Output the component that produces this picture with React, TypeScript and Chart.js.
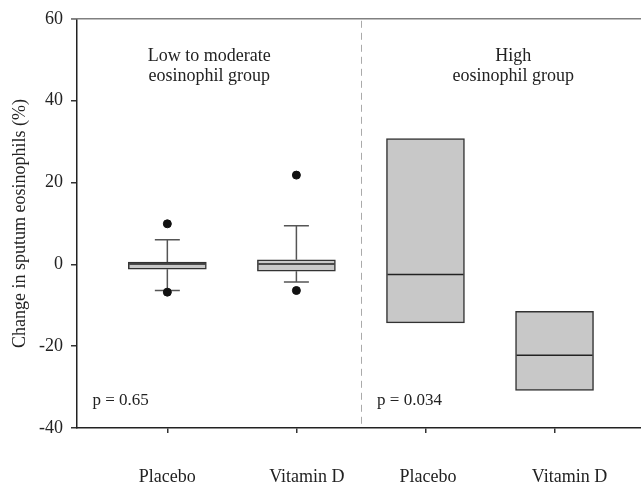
import React, { useEffect, useRef } from 'react';
import { Chart, registerables } from 'chart.js';

Chart.register(...registerables);

// ---- data ----
const categories = ['Placebo', 'Vitamin D', 'Placebo', 'Vitamin D'];
const categoryPos = [1, 2, 3, 4];
const q1 = [-1.2, -1.7, -14.3, -30.8];
const median = [0.1, 0.1, -2.5, -22.2];
const q3 = [0.55, 1.1, 30.7, -11.5];
const whiskerLow: (number | null)[] = [-6.4, -4.3, null, null];
const whiskerHigh: (number | null)[] = [6.0, 9.4, null, null];
const outlierX = [1, 1, 2, 2];
const outlierY = [9.9, -6.8, 21.8, -6.4];
const yTickValues = [-40, -20, 0, 20, 40, 60];
const groupTitles = [
  ['Low to moderate', 'eosinophil group'],
  ['High', 'eosinophil group'],
];
const pValues = ['p = 0.65', 'p = 0.034'];
const yTitle = 'Change in sputum eosinophils (%)';

const FONT = '"Liberation Serif", "Times New Roman", serif';
const TEXT = '#222';

const boxPlugin = {
  id: 'boxExtras',
  beforeDatasetsDraw(chart: any) {
    const { ctx, chartArea, scales } = chart;
    const x = scales.x;
    const y = scales.y;
    ctx.save();
    // top frame line
    ctx.strokeStyle = '#808080';
    ctx.lineWidth = 1.5;
    ctx.beginPath();
    ctx.moveTo(chartArea.left - 6, chartArea.top);
    ctx.lineTo(chartArea.right, chartArea.top);
    ctx.stroke();
    // dashed divider between groups
    const dx = Math.round(x.getPixelForValue(2.5)) + 0.5;
    ctx.setLineDash([7, 5]);
    ctx.strokeStyle = '#aaaaaa';
    ctx.lineWidth = 1;
    ctx.beginPath();
    ctx.moveTo(dx, chartArea.top + 2);
    ctx.lineTo(dx, chartArea.bottom);
    ctx.stroke();
    ctx.setLineDash([]);
    // whiskers
    ctx.strokeStyle = '#555';
    ctx.lineWidth = 1.5;
    categoryPos.forEach((c, i) => {
      const px = x.getPixelForValue(c);
      const half = 12.5;
      const hi = whiskerHigh[i];
      const lo = whiskerLow[i];
      if (hi != null) {
        const yy = y.getPixelForValue(hi);
        ctx.beginPath();
        ctx.moveTo(px, y.getPixelForValue(q3[i]));
        ctx.lineTo(px, yy);
        ctx.moveTo(px - half, yy);
        ctx.lineTo(px + half, yy);
        ctx.stroke();
      }
      if (lo != null) {
        const yy = y.getPixelForValue(lo);
        ctx.beginPath();
        ctx.moveTo(px, y.getPixelForValue(q1[i]));
        ctx.lineTo(px, yy);
        ctx.moveTo(px - half, yy);
        ctx.lineTo(px + half, yy);
        ctx.stroke();
      }
    });
    ctx.restore();
  },
  afterDatasetDraw(chart: any, args: any) {
    if (args.index !== 0) return;
    const { ctx, scales } = chart;
    const meta = chart.getDatasetMeta(0);
    ctx.save();
    ctx.strokeStyle = '#222';
    ctx.lineWidth = 1.5;
    meta.data.forEach((bar: any, i: number) => {
      const yy = scales.y.getPixelForValue(median[i]);
      ctx.beginPath();
      ctx.moveTo(bar.x - bar.width / 2 + 1, yy);
      ctx.lineTo(bar.x + bar.width / 2 - 1, yy);
      ctx.stroke();
    });
    ctx.restore();
  },
  afterDraw(chart: any) {
    const { ctx, scales } = chart;
    const x = scales.x;
    const y = scales.y;
    ctx.save();
    ctx.fillStyle = TEXT;
    // category labels below the x axis
    const labelShift = [0, 10.5, 2.5, 15];
    ctx.font = `18px ${FONT}`;
    ctx.textAlign = 'center';
    ctx.textBaseline = 'alphabetic';
    categories.forEach((c, i) => {
      ctx.fillText(c, x.getPixelForValue(categoryPos[i]) + labelShift[i], 482);
    });
    // group titles
    const titleX = [1.325, 3.68];
    groupTitles.forEach((lines, g) => {
      const px = x.getPixelForValue(titleX[g]);
      ctx.fillText(lines[0], px, y.getPixelForValue(49.8));
      ctx.fillText(lines[1], px, y.getPixelForValue(44.9));
    });
    // p values
    const pX = [0.42, 2.625];
    ctx.font = `17px ${FONT}`;
    ctx.textAlign = 'left';
    pValues.forEach((p, g) => {
      ctx.fillText(p, x.getPixelForValue(pX[g]), y.getPixelForValue(-34.5));
    });
    ctx.restore();
  },
};

export default function App() {
  const ref = useRef<HTMLCanvasElement | null>(null);

  useEffect(() => {
    if (!ref.current) return;
    const chart = new Chart(ref.current, {
      type: 'bar',
      data: {
        datasets: [
          {
            type: 'bar',
            data: categoryPos.map((c, i) => ({ x: c, y: [q1[i], q3[i]] })) as any,
            backgroundColor: '#c8c8c8',
            borderColor: '#333',
            borderWidth: 1.5,
            borderSkipped: false,
            barThickness: 78,
          } as any,
          {
            type: 'scatter',
            data: outlierX.map((c, i) => ({ x: c, y: outlierY[i] })),
            backgroundColor: '#111',
            borderColor: '#111',
            pointRadius: 4,
            pointHoverRadius: 4,
            showLine: false,
          } as any,
        ],
      },
      options: {
        responsive: false,
        animation: false,
        devicePixelRatio: 1,
        layout: { autoPadding: false, padding: { top: 17, right: 0, left: 0, bottom: 0 } },
        plugins: { legend: { display: false }, tooltip: { enabled: false } },
        scales: {
          x: {
            type: 'linear',
            min: 0.3,
            max: 4.67,
            offset: false,
            afterBuildTicks: (scale: any) => {
              scale.ticks = categoryPos.map((v) => ({ value: v }));
            },
            afterFit: (scale: any) => {
              scale.height = 57;
            },
            ticks: { display: false },
            grid: {
              offset: false,
              drawOnChartArea: false,
              drawTicks: true,
              tickLength: 5,
              color: '#333',
              lineWidth: 1.5,
            },
            border: { display: true, color: '#222', width: 1.5 },
          },
          y: {
            type: 'linear',
            min: -40,
            max: 60,
            afterBuildTicks: (scale: any) => {
              scale.ticks = yTickValues.map((v) => ({ value: v }));
            },
            afterFit: (scale: any) => {
              scale.width = 77;
            },
            ticks: {
              font: { family: FONT, size: 18 },
              color: TEXT,
              padding: 8,
            },
            grid: {
              drawOnChartArea: false,
              drawTicks: true,
              tickLength: 6,
              color: '#333',
              lineWidth: 1.5,
            },
            border: { display: true, color: '#222', width: 1.5 },
            title: {
              display: true,
              text: yTitle,
              font: { family: FONT, size: 18 },
              color: TEXT,
              padding: { top: 9, bottom: 0 },
            },
          },
        },
      },
      plugins: [boxPlugin],
    });
    return () => chart.destroy();
  }, []);

  return (
    <div style={{ position: 'absolute', left: 0, top: 0, width: 641, height: 485, background: '#fff' }}>
      <canvas ref={ref} width={641} height={485} style={{ display: 'block', width: 641, height: 485 }} />
    </div>
  );
}
